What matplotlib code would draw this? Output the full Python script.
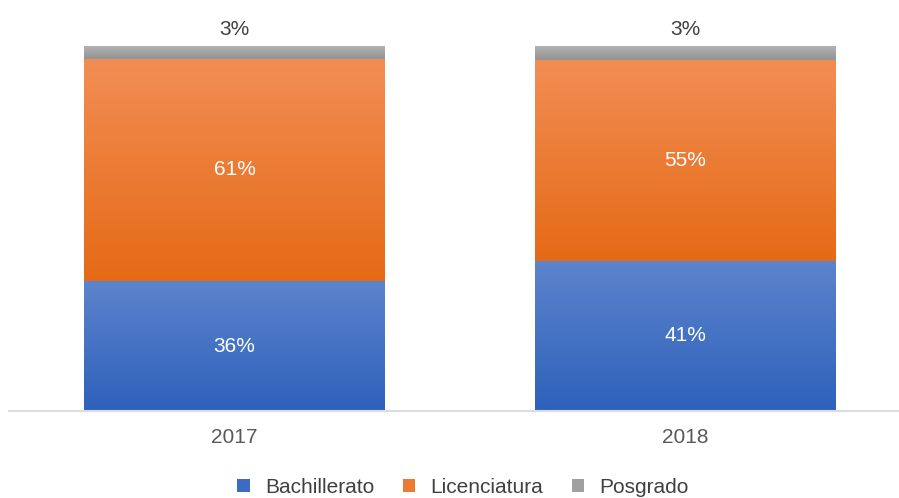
import matplotlib.pyplot as plt
import numpy as np
from matplotlib.colors import LinearSegmentedColormap
from matplotlib.patches import Patch

plt.rcParams['font.family'] = ['Liberation Sans', 'DejaVu Sans']

years = ['2017', '2018']
series = ['Bachillerato', 'Licenciatura', 'Posgrado']
bachillerato = [35.6, 41.1]
licenciatura = [60.9, 55.2]
posgrado = [3.5, 3.7]
labels = [['36%', '41%'], ['61%', '55%'], ['3%', '3%']]

# (top colour, bottom colour) per series
grads = [('#5d84cd', '#2e61ba'), ('#f28e54', '#e56a16'), ('#b2b2b2', '#939393')]
legend_colors = ['#3a6cc4', '#ec7a30', '#a0a0a0']
label_colors = ['white', 'white', '#404040']

W, H = 899, 498
fig = plt.figure(figsize=(W / 100, H / 100), dpi=100)
ax = fig.add_axes([9 / W, (H - 411) / H, 890 / W, 365 / H])

x = np.arange(len(years))
bottom = np.zeros(len(years))
values = [bachillerato, licenciatura, posgrado]
for i, vals in enumerate(values):
    bars = ax.bar(x, vals, width=0.667, bottom=bottom, color='none', zorder=2)
    cmap = LinearSegmentedColormap.from_list('g%d' % i, [grads[i][1], grads[i][0]])
    for j, b in enumerate(bars):
        x0, y0, w, h = b.get_x(), b.get_y(), b.get_width(), b.get_height()
        grad = np.linspace(0, 1, 256).reshape(-1, 1)
        ax.imshow(grad, cmap=cmap, origin='lower', aspect='auto',
                  extent=[x0, x0 + w, y0, y0 + h], zorder=1, interpolation='bicubic')
        if i < 2:
            ty = y0 + h / 2
        else:
            ty = y0 + h + 4.6
        ax.text(x0 + w / 2, ty, labels[i][j], ha='center', va='center',
                color=label_colors[i], fontsize=15)
    bottom = bottom + np.array(vals)

ax.set_xlim(-0.5, -0.5 + 890 / 451)
ax.set_ylim(0, 100)
ax.set_xticks(x)
ax.set_xticklabels(years, fontsize=15, color='#595959')
ax.tick_params(axis='x', length=0, pad=12)
ax.set_yticks([])
for s in ['top', 'right', 'left']:
    ax.spines[s].set_visible(False)
ax.spines['bottom'].set_color('#d9dde3')
ax.spines['bottom'].set_linewidth(1.5)

handles = [Patch(facecolor=legend_colors[k], label=series[k]) for k in range(3)]
fig.legend(handles=handles, loc='center', bbox_to_anchor=(463 / W, (H - 487) / H),
           ncol=3, frameon=False, fontsize=15, handlelength=0.6, handleheight=0.6,
           columnspacing=1.35, handletextpad=0.75, labelcolor='#404040')

fig.savefig('out.png', dpi=100)
